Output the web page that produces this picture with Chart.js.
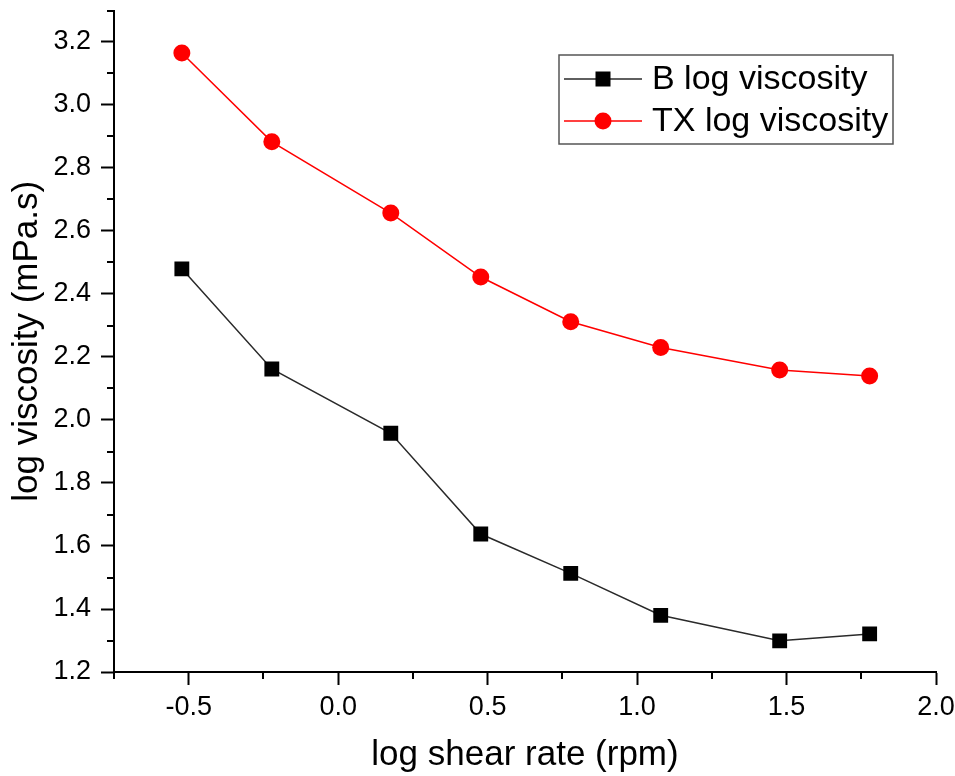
<!DOCTYPE html>
<html lang="en">
<head>
  <meta charset="UTF-8">
  <title>log viscosity vs log shear rate</title>
  <script src="https://cdn.jsdelivr.net/npm/chart.js"></script>
  <style>
    html, body { margin: 0; padding: 0; background: #fff; }
    #wrap { width: 955px; height: 776px; }
  </style>
</head>
<body>
  <div id="wrap">
    <canvas id="myChart" width="955" height="776"></canvas>
  </div>

  <script>
    // data
    const logShear = [-0.523, -0.222, 0.176, 0.477, 0.778, 1.079, 1.477, 1.778];
    const bLogVisc = [2.480, 2.162, 1.958, 1.638, 1.513, 1.380, 1.299, 1.321];
    const txLogVisc = [3.165, 2.883, 2.657, 2.454, 2.312, 2.230, 2.159, 2.140];

    const seriesNames = ["B log viscosity", "TX log viscosity"];

    // axis ticks
    const xMajorTicks = [-0.5, 0.0, 0.5, 1.0, 1.5, 2.0];
    const xMinorTicks = [-0.75, -0.25, 0.25, 0.75, 1.25, 1.75];
    const yMajorTicks = [1.2, 1.4, 1.6, 1.8, 2.0, 2.2, 2.4, 2.6, 2.8, 3.0, 3.2];
    const yMinorTicks = [1.3, 1.5, 1.7, 1.9, 2.1, 2.3, 2.5, 2.7, 2.9, 3.1, 3.3];

    const FONT = "'Liberation Sans', Arial, sans-serif";

    function toPoints(xs, ys) {
      return xs.map((x, i) => ({ x: x, y: ys[i] }));
    }

    // short ticks between the labelled ones
    const minorTicksPlugin = {
      id: "minorTicks",
      afterDraw(chart) {
        const ctx = chart.ctx;
        const xs = chart.scales.x;
        const ys = chart.scales.y;
        ctx.save();
        ctx.strokeStyle = "#000";
        ctx.lineWidth = 2;
        ctx.beginPath();
        xMinorTicks.forEach(v => {
          const px = Math.round(xs.getPixelForValue(v));
          ctx.moveTo(px, xs.top);
          ctx.lineTo(px, xs.top + 7);
        });
        yMinorTicks.forEach(v => {
          const py = Math.round(ys.getPixelForValue(v));
          ctx.moveTo(ys.right, py);
          ctx.lineTo(ys.right - 7, py);
        });
        ctx.stroke();
        ctx.restore();
      }
    };

    // boxed legend inside the plot, top right
    const boxLegendPlugin = {
      id: "boxLegend",
      afterDraw(chart, args, opts) {
        const ctx = chart.ctx;
        const box = opts.box;
        ctx.save();
        ctx.strokeStyle = "#555";
        ctx.lineWidth = 1.5;
        ctx.strokeRect(box.x, box.y, box.w, box.h);

        chart.data.datasets.forEach((ds, i) => {
          const cy = box.y + opts.firstRow + i * opts.rowGap;
          ctx.strokeStyle = ds.borderColor;
          ctx.lineWidth = ds.borderWidth;
          ctx.beginPath();
          ctx.moveTo(box.x + 5, cy);
          ctx.lineTo(box.x + 83, cy);
          ctx.stroke();

          const mx = box.x + 44;
          ctx.fillStyle = ds.pointBackgroundColor;
          if (ds.pointStyle === "rect") {
            ctx.fillRect(mx - 7.5, cy - 7.5, 15, 15);
          } else {
            ctx.beginPath();
            ctx.arc(mx, cy, 8.5, 0, Math.PI * 2);
            ctx.fill();
          }

          ctx.fillStyle = "#000";
          ctx.font = "34px " + FONT;
          ctx.textAlign = "left";
          ctx.textBaseline = "middle";
          ctx.fillText(ds.label, box.x + 93, cy + 1);
        });
        ctx.restore();
      }
    };

    function drawChart() {
      const ctx = document.getElementById("myChart").getContext("2d");

      new Chart(ctx, {
        type: "line",
        data: {
          datasets: [{
            label: seriesNames[0],
            data: toPoints(logShear, bLogVisc),
            borderColor: "#2a2a2a",
            borderWidth: 1.5,
            pointStyle: "rect",
            pointRadius: 10.5,
            pointBorderWidth: 0,
            pointBackgroundColor: "#000",
            pointBorderColor: "#000"
          }, {
            label: seriesNames[1],
            data: toPoints(logShear, txLogVisc),
            borderColor: "#ff0000",
            borderWidth: 1.5,
            pointStyle: "circle",
            pointRadius: 8.5,
            pointBorderWidth: 0,
            pointBackgroundColor: "#ff0000",
            pointBorderColor: "#ff0000"
          }]
        },
        options: {
          responsive: false,
          animation: false,
          events: [],
          layout: { padding: { top: 10, right: 19, left: 0, bottom: 0 } },
          plugins: {
            legend: { display: false },
            tooltip: { enabled: false },
            boxLegend: {
              box: { x: 559, y: 55, w: 334, h: 89 },
              firstRow: 24,
              rowGap: 42
            }
          },
          scales: {
            x: {
              type: "linear",
              min: -0.75,
              max: 2.0,
              afterBuildTicks: s => { s.ticks = xMajorTicks.map(v => ({ value: v })); },
              afterFit: s => { s.height = 104; s.paddingLeft = 0; s.paddingRight = 0; },
              grid: {
                drawOnChartArea: false,
                drawTicks: true,
                tickLength: 13,
                tickWidth: 2,
                tickColor: "#000"
              },
              border: { color: "#000", width: 2 },
              ticks: {
                color: "#000",
                padding: 6,
                maxRotation: 0,
                autoSkip: false,
                font: { family: FONT, size: 27 },
                callback: v => Number(v).toFixed(1)
              },
              title: {
                display: true,
                text: "log shear rate (rpm)",
                color: "#000",
                padding: { top: 0, bottom: 0 },
                font: { family: FONT, size: 35 }
              }
            },
            y: {
              type: "linear",
              min: 1.2,
              max: 3.3,
              afterBuildTicks: s => { s.ticks = yMajorTicks.map(v => ({ value: v })); },
              afterFit: s => { s.width = 114; s.paddingTop = 0; s.paddingBottom = 0; },
              grid: {
                drawOnChartArea: false,
                drawTicks: true,
                tickLength: 13,
                tickWidth: 2,
                tickColor: "#000"
              },
              border: { color: "#000", width: 2 },
              ticks: {
                color: "#000",
                padding: 10,
                autoSkip: false,
                font: { family: FONT, size: 27 },
                callback: v => Number(v).toFixed(1)
              },
              title: {
                display: true,
                text: "log viscosity (mPa.s)",
                color: "#000",
                padding: { top: 6, bottom: 0 },
                font: { family: FONT, size: 35 }
              }
            }
          }
        },
        plugins: [minorTicksPlugin, boxLegendPlugin]
      });
    }

    document.addEventListener("DOMContentLoaded", drawChart);
  </script>
</body>
</html>
